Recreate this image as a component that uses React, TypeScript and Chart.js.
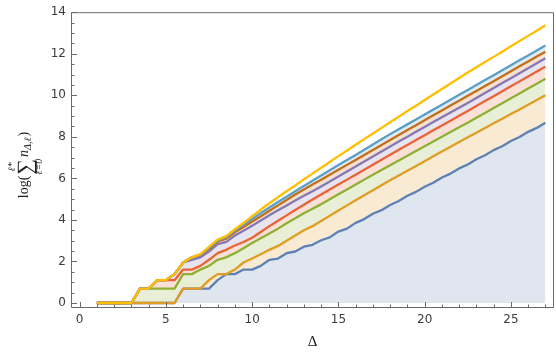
import React, { useEffect, useRef } from "react";
import { Chart, registerables } from "chart.js";

Chart.register(...registerables);

const deltas = [1, 1.5, 2, 2.5, 3, 3.5, 4, 4.5, 5, 5.5, 6, 6.5, 7, 7.5, 8, 8.5, 9, 9.5, 10, 10.5, 11, 11.5, 12, 12.5, 13, 13.5, 14, 14.5, 15, 15.5, 16, 16.5, 17, 17.5, 18, 18.5, 19, 19.5, 20, 20.5, 21, 21.5, 22, 22.5, 23, 23.5, 24, 24.5, 25, 25.5, 26, 26.5, 27];

const seriesL0 = [0, 0, 0, 0, 0, 0, 0, 0, 0, 0, 0.69, 0.69, 0.69, 0.69, 1.10, 1.39, 1.39, 1.61, 1.61, 1.79, 2.08, 2.14, 2.40, 2.48, 2.71, 2.80, 3.02, 3.16, 3.44, 3.58, 3.86, 4.04, 4.30, 4.47, 4.72, 4.91, 5.16, 5.35, 5.60, 5.79, 6.04, 6.23, 6.48, 6.67, 6.92, 7.11, 7.36, 7.55, 7.80, 7.99, 8.24, 8.43, 8.68];
const seriesL1 = [0, 0, 0, 0, 0, 0, 0, 0, 0, 0, 0.69, 0.69, 0.69, 1.10, 1.39, 1.39, 1.61, 1.95, 2.14, 2.35, 2.56, 2.75, 3.00, 3.25, 3.50, 3.70, 3.95, 4.20, 4.45, 4.70, 4.95, 5.19, 5.43, 5.67, 5.91, 6.14, 6.37, 6.60, 6.83, 7.06, 7.29, 7.52, 7.75, 7.98, 8.20, 8.43, 8.65, 8.87, 9.10, 9.32, 9.55, 9.77, 10.00];
const seriesL2 = [0, 0, 0, 0, 0, 0.69, 0.69, 0.69, 0.69, 0.69, 1.39, 1.39, 1.61, 1.79, 2.08, 2.20, 2.40, 2.64, 2.89, 3.12, 3.35, 3.58, 3.84, 4.08, 4.32, 4.54, 4.76, 5.00, 5.24, 5.47, 5.70, 5.94, 6.17, 6.40, 6.63, 6.86, 7.09, 7.32, 7.55, 7.78, 8.00, 8.23, 8.46, 8.68, 8.92, 9.15, 9.39, 9.62, 9.86, 10.09, 10.33, 10.56, 10.80];
const seriesL3 = [0, 0, 0, 0, 0, 0.69, 0.69, 1.10, 1.10, 1.10, 1.61, 1.61, 1.79, 2.08, 2.40, 2.56, 2.77, 2.94, 3.14, 3.42, 3.70, 3.96, 4.22, 4.48, 4.73, 4.98, 5.22, 5.46, 5.70, 5.94, 6.18, 6.42, 6.66, 6.90, 7.14, 7.38, 7.61, 7.85, 8.08, 8.32, 8.55, 8.78, 9.01, 9.24, 9.48, 9.72, 9.95, 10.19, 10.43, 10.67, 10.90, 11.14, 11.38];
const seriesL4 = [0, 0, 0, 0, 0, 0.69, 0.69, 1.10, 1.10, 1.39, 1.95, 2.08, 2.20, 2.48, 2.83, 2.94, 3.25, 3.48, 3.72, 3.97, 4.22, 4.46, 4.70, 4.93, 5.16, 5.38, 5.61, 5.85, 6.09, 6.33, 6.57, 6.81, 7.05, 7.29, 7.53, 7.77, 8.00, 8.24, 8.47, 8.71, 8.94, 9.17, 9.40, 9.63, 9.87, 10.11, 10.35, 10.59, 10.82, 11.06, 11.30, 11.54, 11.78];
const seriesL5 = [0, 0, 0, 0, 0, 0.69, 0.69, 1.10, 1.10, 1.39, 1.95, 2.20, 2.30, 2.60, 2.96, 3.10, 3.40, 3.66, 3.92, 4.18, 4.44, 4.70, 4.96, 5.22, 5.46, 5.70, 5.93, 6.17, 6.41, 6.65, 6.89, 7.13, 7.37, 7.61, 7.85, 8.09, 8.33, 8.56, 8.80, 9.04, 9.27, 9.51, 9.74, 9.98, 10.21, 10.45, 10.68, 10.92, 11.16, 11.40, 11.63, 11.87, 12.10];
const seriesL6 = [0, 0, 0, 0, 0, 0.69, 0.69, 1.10, 1.10, 1.39, 1.95, 2.20, 2.33, 2.65, 3.00, 3.17, 3.48, 3.76, 4.05, 4.33, 4.60, 4.86, 5.12, 5.38, 5.63, 5.89, 6.14, 6.39, 6.64, 6.88, 7.13, 7.38, 7.63, 7.88, 8.13, 8.37, 8.60, 8.84, 9.08, 9.31, 9.55, 9.79, 10.03, 10.26, 10.50, 10.74, 10.97, 11.21, 11.45, 11.69, 11.92, 12.16, 12.40];
const seriesAll = [0, 0, 0, 0, 0, 0.69, 0.69, 1.10, 1.10, 1.39, 1.95, 2.20, 2.35, 2.70, 3.05, 3.22, 3.55, 3.85, 4.18, 4.50, 4.80, 5.10, 5.38, 5.66, 5.95, 6.23, 6.51, 6.79, 7.07, 7.34, 7.62, 7.89, 8.16, 8.43, 8.70, 8.97, 9.24, 9.50, 9.77, 10.04, 10.30, 10.57, 10.83, 11.10, 11.35, 11.60, 11.85, 12.10, 12.36, 12.61, 12.86, 13.11, 13.37];

const xTickValues = [0, 5, 10, 15, 20, 25];
const yTickValues = [0, 2, 4, 6, 8, 10, 12, 14];

const seriesList = [seriesL0, seriesL1, seriesL2, seriesL3, seriesL4, seriesL5, seriesL6, seriesAll];
const lineColors = [
  [94, 129, 181],
  [225, 156, 36],
  [143, 176, 50],
  [235, 98, 53],
  [135, 120, 179],
  [197, 110, 26],
  [93, 158, 199],
  [255, 191, 0],
];

const FRAME = "#6a6a6a";
const SERIF = '"Liberation Serif", "DejaVu Serif", serif';

function drawYLabel(ctx: CanvasRenderingContext2D) {
  ctx.save();
  ctx.translate(28, 165);
  ctx.rotate(-Math.PI / 2);
  ctx.fillStyle = "#1e1e1e";
  ctx.textBaseline = "alphabetic";
  ctx.textAlign = "left";
  const mainFont = `14px ${SERIF}`;
  const italFont = `italic 14px ${SERIF}`;
  const sumFont = `22px ${SERIF}`;
  const smallItal = `italic 10px ${SERIF}`;
  ctx.font = mainFont;
  const wLog = ctx.measureText("log(").width;
  const wClose = ctx.measureText(")").width;
  ctx.font = sumFont;
  const wSum = ctx.measureText("∑").width;
  ctx.font = italFont;
  const wN = ctx.measureText("n").width;
  ctx.font = smallItal;
  const wSub = ctx.measureText("Δ,ℓ").width;
  const wSup = ctx.measureText("ℓ*").width;
  const wLow = ctx.measureText("ℓ=0").width;
  const total = wLog + 1 + wSum + 2 + wN + wSub + 1 + wClose;
  let x = -total / 2;
  ctx.font = mainFont;
  ctx.fillText("log(", x, 0);
  x += wLog + 1;
  ctx.font = sumFont;
  ctx.fillText("∑", x, 4);
  ctx.font = smallItal;
  ctx.fillText("ℓ*", x + (wSum - wSup) / 2, -13);
  ctx.fillText("ℓ=0", x + (wSum - wLow) / 2, 14);
  x += wSum + 2;
  ctx.font = italFont;
  ctx.fillText("n", x, 0);
  x += wN;
  ctx.font = smallItal;
  ctx.fillText("Δ,ℓ", x, 3);
  x += wSub + 1;
  ctx.font = mainFont;
  ctx.fillText(")", x, 0);
  ctx.restore();
}

const framePlugin = {
  id: "mmaFrame",
  afterDraw(chart: any) {
    const { ctx, chartArea: a, scales } = chart;
    const xs = scales.x;
    const ys = scales.y;
    ctx.save();
    ctx.strokeStyle = FRAME;
    ctx.lineWidth = 1;
    ctx.beginPath();
    ctx.rect(a.left + 0.5, a.top + 0.5, a.right - a.left - 1, a.bottom - a.top - 1);
    ctx.stroke();
    ctx.beginPath();
    const xmaxMinor = Math.floor(xs.max);
    for (let v = Math.ceil(xs.min); v <= xmaxMinor; v++) {
      const px = Math.round(xs.getPixelForValue(v)) + 0.5;
      const len = v % 5 === 0 ? 5.5 : 3;
      ctx.moveTo(px, a.bottom - 0.5);
      ctx.lineTo(px, a.bottom - 0.5 - len);
    }
    for (let k = 0; k * 0.5 <= ys.max; k++) {
      const v = k * 0.5;
      const py = Math.round(ys.getPixelForValue(v)) + 0.5;
      const len = k % 4 === 0 ? 5.5 : 3;
      ctx.moveTo(a.left + 0.5, py);
      ctx.lineTo(a.left + 0.5 + len, py);
    }
    ctx.stroke();
    ctx.restore();
    drawYLabel(ctx);
  },
};

export default function App() {
  const canvasRef = useRef<HTMLCanvasElement | null>(null);

  useEffect(() => {
    document.body.style.margin = "0";
    const canvas = canvasRef.current;
    if (!canvas) return;
    const datasets = seriesList.map((vals, i) => {
      const [r, g, b] = lineColors[i];
      let fill: any = false;
      if (i === 0) fill = "origin";
      else if (i < 7) fill = "-1";
      return {
        label: `series ${i}`,
        data: deltas.map((d, j) => ({ x: d, y: vals[j] })),
        borderColor: `rgb(${r},${g},${b})`,
        backgroundColor: `rgba(${r},${g},${b},0.2)`,
        borderWidth: 2.3,
        pointRadius: 0,
        pointHoverRadius: 0,
        tension: 0,
        fill,
        order: 7 - i,
        borderJoinStyle: "round" as const,
        borderCapStyle: "butt" as const,
      };
    });

    const chart = new Chart(canvas, {
      type: "line",
      data: { datasets },
      options: {
        animation: false,
        responsive: false,
        devicePixelRatio: 1,
        layout: { padding: { top: 10, right: 2, left: 0, bottom: 0 } },
        plugins: {
          legend: { display: false },
          tooltip: { enabled: false },
          filler: { drawTime: "beforeDatasetsDraw" },
        },
        scales: {
          x: {
            type: "linear",
            min: -0.5,
            max: 27.5,
            afterBuildTicks: (s: any) => {
              s.ticks = xTickValues.map((v) => ({ value: v }));
            },
            afterFit: (s: any) => {
              s.height = 52;
            },
            grid: { display: false, drawTicks: false },
            border: { display: false },
            ticks: {
              autoSkip: false,
              maxRotation: 0,
              padding: 5,
              color: "#3c3c3c",
              font: { family: '"DejaVu Sans", sans-serif', size: 12 },
            },
            title: {
              display: true,
              text: "Δ",
              color: "#1e1e1e",
              font: { family: SERIF, size: 15 },
              padding: { top: 0, bottom: 9 },
            },
          },
          y: {
            type: "linear",
            min: -0.24,
            max: 14,
            afterBuildTicks: (s: any) => {
              s.ticks = yTickValues.map((v) => ({ value: v }));
            },
            afterFit: (s: any) => {
              s.width = 71;
            },
            grid: { display: false, drawTicks: false },
            border: { display: false },
            ticks: {
              autoSkip: false,
              padding: 5,
              color: "#3c3c3c",
              font: { family: '"DejaVu Sans", sans-serif', size: 12 },
            },
          },
        },
      },
      plugins: [framePlugin],
    });
    return () => chart.destroy();
  }, []);

  return (
    <div style={{ position: "absolute", left: 0, top: 0, width: 556, height: 360 }}>
      <canvas ref={canvasRef} width={556} height={360} />
    </div>
  );
}
